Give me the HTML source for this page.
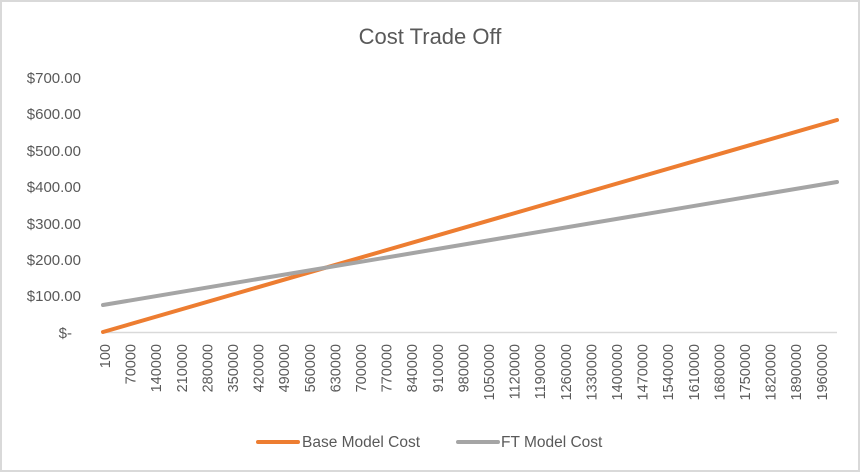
<!DOCTYPE html>
<html><head><meta charset="utf-8"><style>
html,body{margin:0;padding:0;background:#fff}
svg{display:block;font-family:"Liberation Sans",sans-serif}
</style></head><body>
<svg width="861" height="473" xmlns="http://www.w3.org/2000/svg">
<rect x="1" y="1" width="858" height="470" fill="#fff" stroke="#d9d9d9" stroke-width="2"/>
<text x="430" y="44" text-anchor="middle" font-size="22" fill="#595959">Cost Trade Off</text>
<g font-size="15" fill="#595959" text-anchor="end">
<text x="81" y="83">$700.00</text>
<text x="81" y="119">$600.00</text>
<text x="81" y="156">$500.00</text>
<text x="81" y="192">$400.00</text>
<text x="81" y="229">$300.00</text>
<text x="81" y="265">$200.00</text>
<text x="81" y="301">$100.00</text>
<text x="72" y="338">$-</text>
</g>
<line x1="102" y1="332.5" x2="837" y2="332.5" stroke="#d9d9d9" stroke-width="1.5"/>
<g font-size="14.5" fill="#595959" text-anchor="end" id="xl"></g>
<polyline points="103,332 837,120" fill="none" stroke="#ed7d31" stroke-width="4" stroke-linecap="round"/>
<polyline points="103,305 837,182" fill="none" stroke="#a5a5a5" stroke-width="4" stroke-linecap="round"/>
<line x1="258" y1="442" x2="298" y2="442" stroke="#ed7d31" stroke-width="4" stroke-linecap="round"/>
<text x="302" y="447" font-size="15.5" fill="#595959">Base Model Cost</text>
<line x1="458" y1="442" x2="498" y2="442" stroke="#a5a5a5" stroke-width="4" stroke-linecap="round"/>
<text x="501" y="447" font-size="15.5" fill="#595959">FT Model Cost</text>
</svg>
<script>
var g=document.getElementById('xl'),s='';
for(var i=0;i<29;i++){var v=i==0?100:i*70000;var x=110+i*25.6;
s+='<text transform="translate('+x+',344) rotate(-90)">'+v+'</text>';}
g.innerHTML=s;
</script>
</body></html>
